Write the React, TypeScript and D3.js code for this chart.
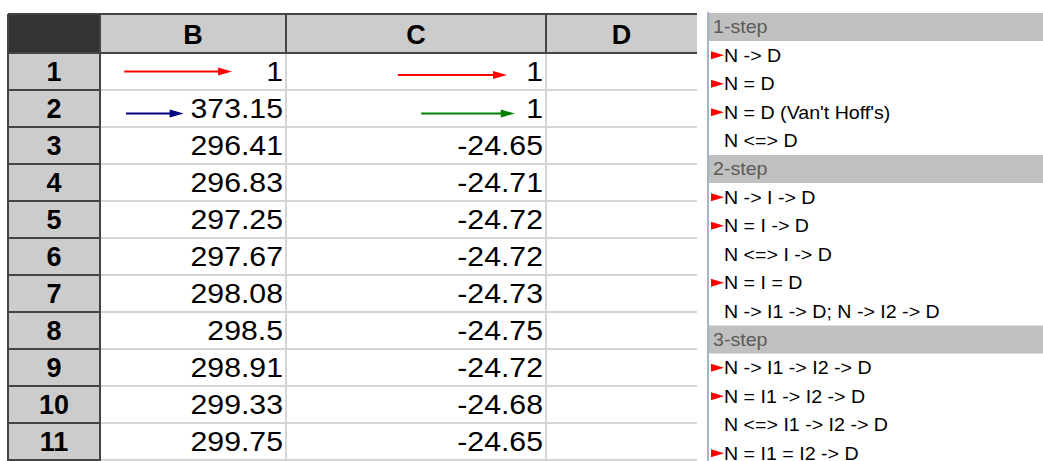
import React from "react";
import * as d3 from "d3";

const columns = ["B", "C", "D"];
const rowNumbers = [1, 2, 3, 4, 5, 6, 7, 8, 9, 10, 11];
const colBValues = [1, 373.15, 296.41, 296.83, 297.25, 297.67, 298.08, 298.5, 298.91, 299.33, 299.75];
const colCValues = [1, 1, -24.65, -24.71, -24.72, -24.72, -24.73, -24.75, -24.72, -24.68, -24.65];

const arrowAnnotations = [
  { row: 1, col: "B", color: "#ff0000", from: 0.13, to: 0.71, dy: 0 },
  { row: 2, col: "B", color: "#000080", from: 0.14, to: 0.45, dy: 5 },
  { row: 1, col: "C", color: "#ff0000", from: 0.43, to: 0.85, dy: 3.5 },
  { row: 2, col: "C", color: "#008000", from: 0.52, to: 0.88, dy: 5 },
];

const sectionTitles = ["1-step", "2-step", "3-step"];
const section1Items = ["N -> D", "N = D", "N = D (Van't Hoff's)", "N <=> D"];
const section2Items = ["N -> I -> D", "N = I -> D", "N <=> I -> D", "N = I = D", "N -> I1 -> D; N -> I2 -> D"];
const section3Items = ["N -> I1 -> I2 -> D", "N = I1 -> I2 -> D", "N <=> I1 -> I2 -> D", "N = I1 = I2 -> D"];
const section1Marked = [true, true, true, false];
const section2Marked = [true, true, false, true, false];
const section3Marked = [true, true, false, true];

const W = 1043;
const H = 461;
const FONT = "'Liberation Sans', Arial, sans-serif";

export default function App() {
  const left = 8;
  const rowHeadRight = 100;
  const colEdges = [rowHeadRight, 286, 546, 697];
  const headerTop = 14;
  const headerBottom = 53;
  const rowH = 37;

  const colX = d3.scaleOrdinal<string, number>().domain(columns).range(colEdges.slice(0, 3));
  const colW = (c: string) => colEdges[columns.indexOf(c) + 1] - colEdges[columns.indexOf(c)];
  const rowY = d3
    .scaleLinear()
    .domain([1, rowNumbers.length + 1])
    .range([headerBottom, headerBottom + rowH * rowNumbers.length]);

  const fmt = (v: number) => String(v);

  // Right panel
  const panelX = 708;
  const secHeaderH = 28;
  const itemH = 28.5;
  const sections = [
    { title: sectionTitles[0], items: section1Items, marked: section1Marked },
    { title: sectionTitles[1], items: section2Items, marked: section2Marked },
    { title: sectionTitles[2], items: section3Items, marked: section3Marked },
  ];
  let y = 13;
  const panelRows: any[] = [];
  sections.forEach((s) => {
    panelRows.push({ type: "h", y, text: s.title });
    y += secHeaderH;
    s.items.forEach((it, i) => {
      panelRows.push({ type: "i", y, text: it, marked: s.marked[i] });
      y += itemH;
    });
  });

  const valueText = (x: number, yy: number, s: string, key: string) => (
    <text key={key} transform={`translate(${x},${yy}) scale(1.12,1)`} textAnchor="end" fontSize={27} fill="#000">
      {s}
    </text>
  );

  return (
    <svg width={W} height={H} style={{ position: "absolute", left: 0, top: 0, background: "#fff" }} fontFamily={FONT}>
      {/* corner */}
      <rect x={left} y={headerTop} width={rowHeadRight - left} height={headerBottom - headerTop} fill="#333333" />
      {/* column headers */}
      {columns.map((c) => (
        <g key={c}>
          <rect x={colX(c)} y={headerTop} width={colW(c)} height={headerBottom - headerTop} fill="#cccccc" />
          <text x={colX(c) + colW(c) / 2} y={headerTop + 30} textAnchor="middle" fontSize={27} fontWeight="bold" fill="#000">
            {c}
          </text>
        </g>
      ))}
      {/* row headers */}
      {rowNumbers.map((r) => (
        <g key={r}>
          <rect x={left} y={rowY(r)} width={rowHeadRight - left} height={rowH} fill="#cccccc" />
          <text x={(left + rowHeadRight) / 2} y={rowY(r) + 28} textAnchor="middle" fontSize={27} fontWeight="bold" fill="#000">
            {r}
          </text>
        </g>
      ))}
      {/* grid lines in body */}
      {rowNumbers.map((r) => (
        <line key={"h" + r} x1={rowHeadRight} x2={colEdges[3]} y1={rowY(r + 1)} y2={rowY(r + 1)} stroke="#d4d4d4" strokeWidth={2} />
      ))}
      {colEdges.slice(1, 3).map((x, i) => (
        <line key={"v" + i} x1={x} x2={x} y1={headerBottom} y2={H} stroke="#d4d4d4" strokeWidth={2} />
      ))}
      {/* header borders */}
      <line x1={left} x2={colEdges[3]} y1={headerTop} y2={headerTop} stroke="#444" strokeWidth={2} />
      <line x1={left} x2={colEdges[3]} y1={headerBottom} y2={headerBottom} stroke="#444" strokeWidth={2} />
      {colEdges.slice(1, 3).map((x, i) => (
        <line key={"hv" + i} x1={x} x2={x} y1={headerTop} y2={headerBottom} stroke="#444" strokeWidth={2} />
      ))}
      <line x1={left} x2={left} y1={headerTop} y2={H} stroke="#444" strokeWidth={2} />
      <line x1={rowHeadRight} x2={rowHeadRight} y1={headerTop} y2={H} stroke="#444" strokeWidth={2} />
      {rowNumbers.map((r) => (
        <line key={"rh" + r} x1={left} x2={rowHeadRight} y1={rowY(r + 1)} y2={rowY(r + 1)} stroke="#444" strokeWidth={2} />
      ))}
      {/* values */}
      {rowNumbers.map((r, i) => (
        <g key={"v" + r}>
          {valueText(colEdges[1] - 3, rowY(r) + 28, fmt(colBValues[i]), "b")}
          {valueText(colEdges[2] - 3, rowY(r) + 28, fmt(colCValues[i]), "c")}
        </g>
      ))}
      {/* arrows */}
      {arrowAnnotations.map((a, i) => {
        const x0 = colX(a.col) + colW(a.col) * a.from;
        const x1 = colX(a.col) + colW(a.col) * a.to;
        const yy = rowY(a.row) + rowH / 2 + a.dy;
        return (
          <g key={"a" + i}>
            <line x1={x0} x2={x1 - 12} y1={yy} y2={yy} stroke={a.color} strokeWidth={2.2} />
            <path d={`M${x1 - 14},${yy - 4}L${x1},${yy}L${x1 - 14},${yy + 4}Z`} fill={a.color} />
          </g>
        );
      })}
      {/* right panel */}
      <line x1={panelX} x2={panelX} y1={12} y2={H} stroke="#a6b4c8" strokeWidth={2} />
      {panelRows.map((p, i) =>
        p.type === "h" ? (
          <g key={"p" + i}>
            <rect x={panelX + 1} y={p.y} width={W - panelX - 1} height={secHeaderH} fill="#c0c0c0" />
            <text transform={`translate(${panelX + 5},${p.y + 20}) scale(1.09,1)`} fontSize={18} fill="#5a5a5a">
              {p.text}
            </text>
          </g>
        ) : (
          <g key={"p" + i}>
            {p.marked && (
              <path
                d={`M${panelX + 3},${p.y + itemH / 2 - 4}L${panelX + 16},${p.y + itemH / 2}L${panelX + 3},${p.y + itemH / 2 + 4}Z`}
                fill="#ff0000"
              />
            )}
            <text transform={`translate(${panelX + 16},${p.y + itemH / 2 + 6.5}) scale(1.09,1)`} fontSize={18} fill="#000">
              {p.text}
            </text>
          </g>
        )
      )}
    </svg>
  );
}
